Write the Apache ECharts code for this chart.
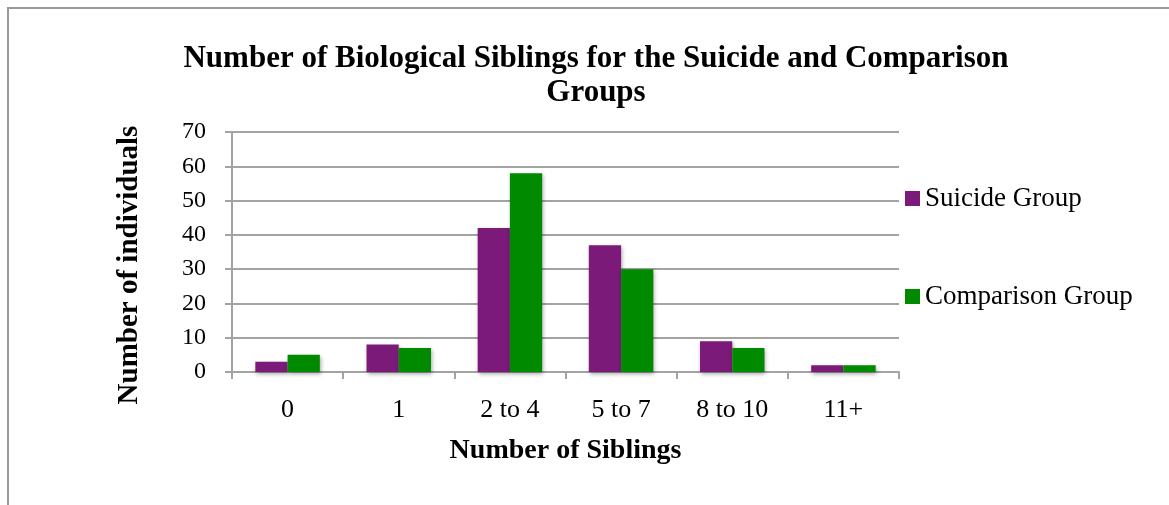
<!DOCTYPE html>
<html>
<head>
<meta charset="utf-8">
<title>Number of Biological Siblings</title>
<script src="https://cdn.jsdelivr.net/npm/echarts@6/dist/echarts.min.js"></script>
<style>
  html, body { margin: 0; padding: 0; background: #fff; }
  #main { width: 1169px; height: 505px; }
  #frame {
    position: absolute; left: 7px; top: 7px; width: 1170px; height: 510px;
    border-top: 2px solid #9a9a9a; border-left: 2px solid #9a9a9a;
    pointer-events: none;
  }
</style>
</head>
<body>
<div id="main"></div>
<div id="frame"></div>
<script>
// data
var categories = ['0', '1', '2 to 4', '5 to 7', '8 to 10', '11+'];
var suicideGroup = [3, 8, 42, 37, 9, 2];
var comparisonGroup = [5, 7, 58, 30, 7, 2];
var seriesNames = ['Suicide Group', 'Comparison Group'];

var serif = '"Liberation Serif", "DejaVu Serif", serif';
var gridGray = '#a3a3a3';

var myChart = echarts.init(document.getElementById('main'), null, { renderer: 'canvas' });

var barShadow = {
    shadowBlur: 4,
    shadowColor: 'rgba(0,0,0,0.35)',
    shadowOffsetX: 1,
    shadowOffsetY: 2
};

var option = {
    animation: false,
    title: {
        text: 'Number of Biological Siblings for the Suicide and Comparison\nGroups',
        left: 591,
        top: 37,
        textAlign: 'center',
        textStyle: {
            fontFamily: serif,
            fontWeight: 'bold',
            fontSize: 31,
            lineHeight: 34,
            color: '#000'
        }
    },
    legend: {
        orient: 'vertical',
        left: 900,
        top: 180,
        itemWidth: 15,
        itemHeight: 15,
        itemGap: 71,
        icon: 'rect',
        data: seriesNames,
        textStyle: { fontFamily: serif, fontSize: 27, color: '#000' }
    },
    grid: {
        left: 232,
        top: 132,
        width: 667,
        height: 240
    },
    xAxis: {
        type: 'category',
        data: categories,
        name: 'Number of Siblings',
        nameLocation: 'middle',
        nameGap: 65,
        nameTextStyle: { fontFamily: serif, fontWeight: 'bold', fontSize: 28, color: '#000' },
        axisLine: { lineStyle: { color: gridGray, width: 2 } },
        axisTick: { show: true, length: 7, lineStyle: { color: gridGray, width: 2 } },
        axisLabel: { margin: 25, fontFamily: serif, fontSize: 26, color: '#000' }
    },
    yAxis: {
        type: 'value',
        min: 0,
        max: 70,
        interval: 10,
        name: 'Number of individuals',
        nameLocation: 'middle',
        nameGap: 88,
        nameRotate: 90,
        // ref title sits a bit lower than the axis middle
        nameTextStyle: { fontFamily: serif, fontWeight: 'bold', fontSize: 29, color: '#000', padding: [0, 26, 0, 0] },
        axisLine: { show: true, lineStyle: { color: gridGray, width: 2 } },
        axisTick: { show: true, length: 7, lineStyle: { color: gridGray, width: 2 } },
        splitLine: { show: true, lineStyle: { color: gridGray, width: 2 } },
        axisLabel: { margin: 26, fontFamily: serif, fontSize: 24, color: '#000' }
    },
    series: [
        {
            name: seriesNames[0],
            type: 'bar',
            data: suicideGroup,
            barGap: '0%',
            barCategoryGap: '42%',
            itemStyle: Object.assign({ color: '#7b1a78' }, barShadow)
        },
        {
            name: seriesNames[1],
            type: 'bar',
            data: comparisonGroup,
            itemStyle: Object.assign({ color: '#008a00' }, barShadow)
        }
    ]
};

myChart.setOption(option);
</script>
</body>
</html>
